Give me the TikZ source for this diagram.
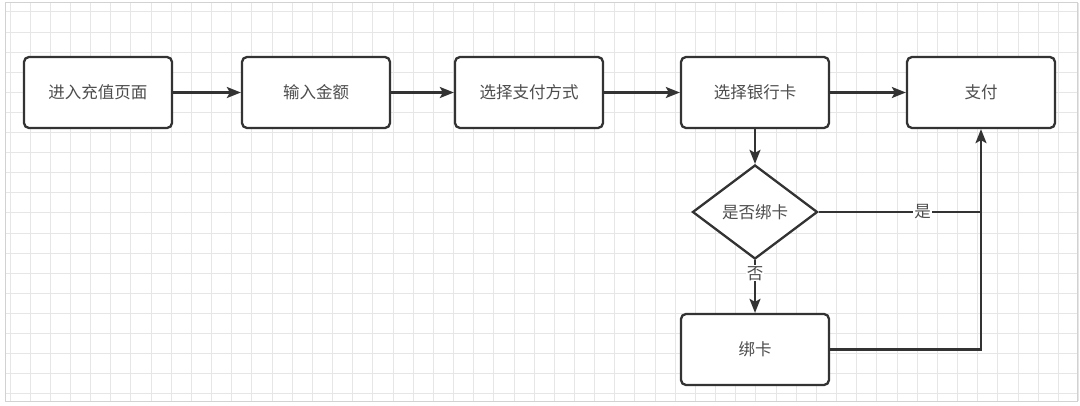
\documentclass[tikz,border=0pt]{standalone}
\usepackage{fontspec}
\setmainfont{Noto Sans CJK SC}
\usetikzlibrary{shapes.geometric,arrows.meta}
\definecolor{linegray}{HTML}{333333}
\definecolor{textgray}{HTML}{4D4D4D}
\definecolor{gridgray}{HTML}{E6E6E6}
\tikzset{
    stepbox/.style={draw=linegray, line width=2.3pt, rounded corners=5pt, fill=white,
        minimum width=148pt, minimum height=71pt, inner sep=0pt,
        font=\fontsize{16.5pt}{18pt}\selectfont, text=textgray},
    askbox/.style={diamond, draw=linegray, line width=2.3pt, fill=white, aspect=1.33,
        minimum width=125pt, minimum height=94pt, inner sep=0pt,
        font=\fontsize{16.5pt}{18pt}\selectfont, text=textgray},
    flow/.style={draw=linegray, line width=2.3pt, -{Stealth[length=14pt,width=11pt,inset=3pt]}},
    link/.style={draw=linegray, line width=2.3pt},
    tag/.style={fill=white, inner sep=1pt, font=\fontsize{16.5pt}{18pt}\selectfont, text=textgray}
}
\begin{document}
\begin{tikzpicture}[x=1pt, y=-1pt]
    \useasboundingbox (0,0) rectangle (1080,406);
    \fill[white] (0,0) rectangle (1080,406);
    % grid
    \foreach \i in {0,...,53} {
        \draw[gridgray, line width=1pt] (10+20.16*\i, 3) -- (10+20.16*\i, 401);
    }
    \foreach \j in {0,...,19} {
        \draw[gridgray, line width=1pt] (5, 12+20.1*\j) -- (1077, 12+20.1*\j);
    }
    \draw[gridgray!80!gray, line width=1pt] (5,3) rectangle (1077,401);
    % steps
    \node[stepbox] (enter) at (98,92.5) {进入充值页面};
    \node[stepbox] (amount) at (316,92.5) {输入金额};
    \node[stepbox] (method) at (529,92.5) {选择支付方式};
    \node[stepbox] (card) at (755,92.5) {选择银行卡};
    \node[stepbox] (pay) at (981,92.5) {支付};
    \node[askbox] (bound) at (755,212) {是否绑卡};
    \node[stepbox] (bind) at (755,349.5) {绑卡};
    \coordinate (join) at (pay.south |- bound.east);
    % connectors
    \draw[flow] (enter) -- (amount);
    \draw[flow] (amount) -- (method);
    \draw[flow] (method) -- (card);
    \draw[flow] (card) -- (pay);
    \draw[flow] (card) -- (bound);
    \draw[flow] (bound) -- node[tag, pos=0.25] {否} (bind);
    \draw[link] (bound) -- node[tag, pos=0.64] {是} (join);
    \draw[flow] (bind.east) -| (pay.south);
\end{tikzpicture}
\end{document}
